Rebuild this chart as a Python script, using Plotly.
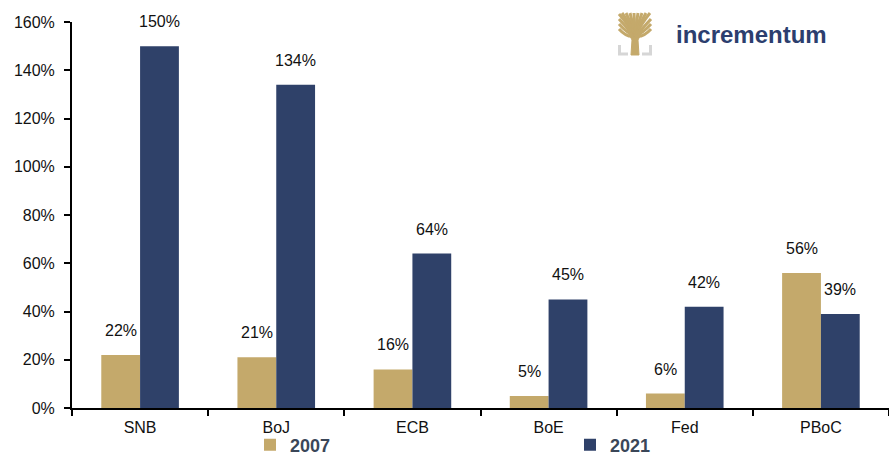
import plotly.graph_objects as go

categories = ["SNB", "BoJ", "ECB", "BoE", "Fed", "PBoC"]
values_2007 = [22, 21, 16, 5, 6, 56]
values_2021 = [150, 134, 64, 45, 42, 39]
series_names = ["2007", "2021"]
tick_vals = [0, 20, 40, 60, 80, 100, 120, 140, 160]
tick_text = [f"{v}%" for v in tick_vals]

GOLD = "#c4a96b"
NAVY = "#2f4169"

W, H = 889, 457
ML, MR, MT, MB = 72, 0, 22, 49
PW, PH = W - ML - MR, H - MT - MB

fig = go.Figure()
fig.add_trace(go.Bar(name=f"<b>{series_names[0]}</b>", x=categories, y=values_2007,
                     marker=dict(color=GOLD, line=dict(width=0)), legend="legend"))
fig.add_trace(go.Bar(name=f"<b>{series_names[1]}</b>", x=categories, y=values_2021,
                     marker=dict(color=NAVY, line=dict(width=0)), legend="legend2"))

bargap = 0.43
half = (1 - bargap) / 4
annotations = []
for i, c in enumerate(categories):
    for vals, off in ((values_2007, -half), (values_2021, half)):
        annotations.append(dict(x=i + off, y=vals[i], xref="x", yref="y",
                                text=f"{vals[i]}%", showarrow=False,
                                yanchor="bottom", yshift=14,
                                font=dict(family="Arial", size=16, color="#111")))

def px(x):
    return (x - ML) / PW

def py(y):
    return (H - MB - y) / PH

shapes = []
# logo: gray brackets
for pts in (((619.5, 45), (619.5, 54), (628, 54)), ((650.5, 45), (650.5, 54), (642, 54))):
    path = "M" + " L".join(f"{px(a):.5f},{py(b):.5f}" for a, b in pts)
    shapes.append(dict(type="path", path=path, xref="paper", yref="paper",
                       line=dict(color="#d6d6d6", width=3)))
# logo: trunk
trunk = [(631, 55), (639, 55), (638, 40), (643, 30), (627, 30), (632, 40)]
path = "M" + " L".join(f"{px(a):.5f},{py(b):.5f}" for a, b in trunk) + " Z"
shapes.append(dict(type="path", path=path, xref="paper", yref="paper",
                   fillcolor=GOLD, line=dict(color=GOLD, width=1)))
# logo: branches
branch_ends = [(619, 14), (619, 19), (619, 24), (619, 29), (622, 13), (626, 13),
               (630, 13), (634, 13), (638, 13), (642, 13), (646, 13), (650, 13),
               (651, 19), (651, 24), (651, 29)]
for (a, b) in branch_ends:
    path = (f"M{px(635):.5f},{py(36):.5f} Q{px((a + 635) / 2):.5f},{py(b + 9):.5f} "
            f"{px(a):.5f},{py(b):.5f}")
    shapes.append(dict(type="path", path=path, xref="paper", yref="paper",
                       line=dict(color=GOLD, width=3)))

annotations.append(dict(x=px(674), y=py(34), xref="paper", yref="paper",
                        xanchor="left", yanchor="middle", showarrow=False,
                        text="<b>incrementum</b>",
                        font=dict(family="Arial", size=24, color="#2c3e6e")))

legend_common = dict(orientation="h", yref="container", y=(H - 445) / H,
                     yanchor="middle", xref="container", xanchor="left",
                     bgcolor="rgba(0,0,0,0)",
                     font=dict(family="Arial", size=18, color="#3a4658"),
                     itemclick=False, itemdoubleclick=False)

fig.update_layout(
    width=W, height=H,
    showlegend=True,
    margin=dict(l=ML, r=MR, t=MT, b=MB, autoexpand=False),
    paper_bgcolor="white", plot_bgcolor="white",
    barmode="group", bargap=bargap, bargroupgap=0,
    font=dict(family="Arial", size=16, color="#111"),
    xaxis=dict(showgrid=False, showline=True, linecolor="black", linewidth=2,
               ticks="outside", tickson="boundaries", ticklen=6, tickwidth=2,
               tickcolor="black", tickfont=dict(size=16, color="#111"),
               ticklabelstandoff=4),
    yaxis=dict(range=[0, 160], tickvals=tick_vals, ticktext=tick_text,
               showgrid=False, zeroline=False, showline=True, linecolor="black",
               linewidth=2, ticks="outside", ticklen=6, tickwidth=2,
               tickcolor="black", tickfont=dict(size=16, color="#111"),
               ticklabelstandoff=6),
    legend=dict(x=250 / W, **legend_common),
    legend2=dict(x=570 / W, **legend_common),
    annotations=annotations,
    shapes=shapes,
)

fig.write_html("out.html", config={"displayModeBar": False},
               post_script="document.body.style.margin='0';")
